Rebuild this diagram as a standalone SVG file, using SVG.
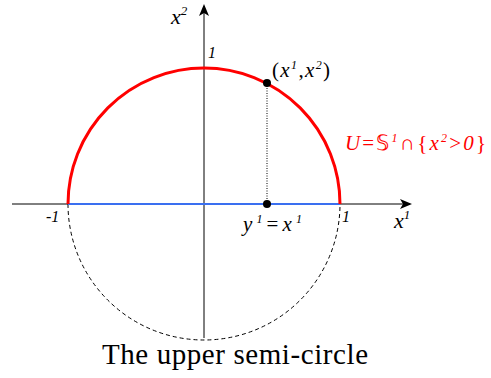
<svg xmlns="http://www.w3.org/2000/svg" width="491" height="378" viewBox="0 0 491 378">
<style>
.lbl{font-family:"Liberation Serif",serif;font-style:italic;fill:#000}
.n{font-style:normal}
.cap{font-family:"Liberation Serif",serif;font-size:29px;fill:#000}
</style>
<defs>
<marker id="ah" markerWidth="12" markerHeight="10" refX="10" refY="5" orient="auto" markerUnits="userSpaceOnUse">
<path d="M0,0 L12,5 L0,10 L3,5 Z" fill="#000"/>
</marker>
</defs>
<rect width="491" height="378" fill="#fff"/>
<g id="connectors">
<line x1="12" y1="204" x2="410" y2="204" stroke="#000" stroke-width="1" marker-end="url(#ah)"/>
<line x1="204" y1="338" x2="204" y2="6" stroke="#000" stroke-width="1" marker-end="url(#ah)"/>
<path d="M68,204 A136,136 0 0 0 340,204" fill="none" stroke="#000" stroke-width="1" stroke-dasharray="4,3"/>
<line x1="68" y1="204" x2="340" y2="204" stroke="#3a6ff0" stroke-width="2.2"/>
<path d="M68,204 A136,136 0 0 1 340,204" fill="none" stroke="#ff0000" stroke-width="3"/>
<line x1="267" y1="83" x2="267" y2="204" stroke="#000" stroke-width="1" stroke-dasharray="1,1.5"/>
</g>
<g id="point-top">
<circle cx="267" cy="83" r="4" fill="#000"/>
<text class="lbl n" x="272" y="77" font-size="21" textLength="58" lengthAdjust="spacing">(<tspan style="font-style:italic">x</tspan><tspan font-size="12" dy="-8" style="font-style:italic">1</tspan><tspan dy="8">,</tspan><tspan style="font-style:italic">x</tspan><tspan font-size="12" dy="-8" style="font-style:italic">2</tspan><tspan dy="8">)</tspan></text>
</g>
<g id="point-bottom">
<circle cx="267" cy="204" r="4" fill="#000"/>
<text class="lbl" x="243" y="231" font-size="21" textLength="59" lengthAdjust="spacing">y<tspan font-size="12" dy="-8">1</tspan><tspan dy="8" class="n">=</tspan>x<tspan font-size="12" dy="-8">1</tspan></text>
</g>
<g id="labels">
<text class="lbl" x="171" y="24" font-size="22">x<tspan font-size="13" dy="-9">2</tspan></text>
<text class="lbl" x="208" y="58" font-size="16">1</text>
<text class="lbl" x="46" y="222" font-size="16">-1</text>
<text class="lbl" x="342" y="222" font-size="16">1</text>
<text class="lbl" x="394" y="228" font-size="22">x<tspan font-size="13" dy="-9">1</tspan></text>
<text class="lbl" x="345" y="150" font-size="21" textLength="141" lengthAdjust="spacing" style="fill:#ff0000">U<tspan class="n">=𝕊</tspan><tspan font-size="12" dy="-8">1</tspan><tspan dy="8" class="n">∩{</tspan>x<tspan font-size="12" dy="-8">2</tspan><tspan dy="8" class="n">&gt;</tspan>0<tspan class="n">}</tspan></text>
</g>
<g id="caption">
<text class="cap" x="102" y="364" textLength="266" lengthAdjust="spacing">The upper semi-circle</text>
</g>
</svg>
